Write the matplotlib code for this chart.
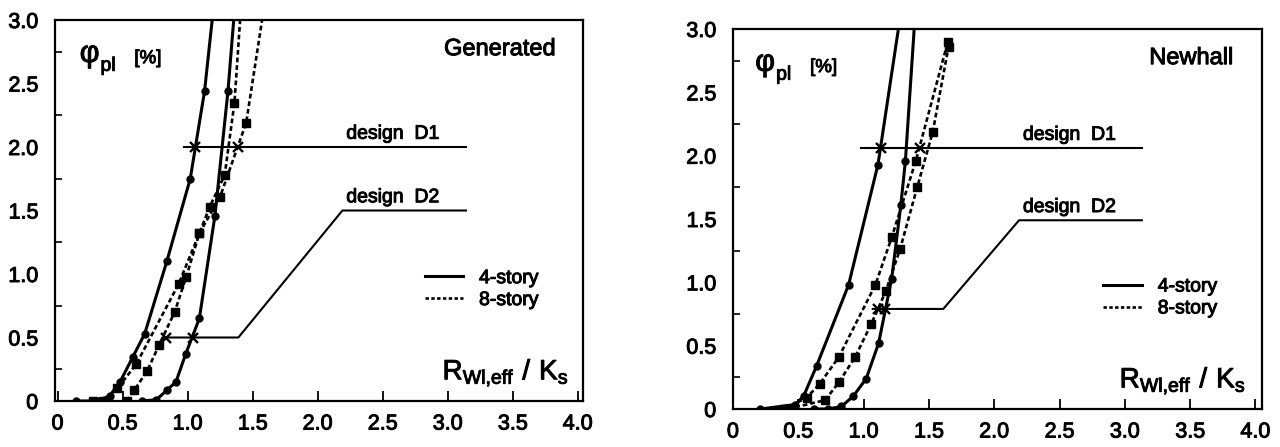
import numpy as np
import matplotlib.pyplot as plt
import matplotlib.patheffects as pe
from matplotlib.lines import Line2D

plt.rcParams['font.family'] = ['Liberation Sans', 'DejaVu Sans']
plt.rcParams['mathtext.fontset'] = 'custom'
plt.rcParams['mathtext.rm'] = 'Liberation Sans'

# --- Generated (left panel) ---
gen_4a_x = [0.14, 0.30, 0.40, 0.48, 0.58, 0.67, 0.84, 1.02, 1.13, 1.22]
gen_4a_y = [0.0, 0.0, 0.04, 0.15, 0.35, 0.53, 1.10, 1.75, 2.44, 3.30]
gen_4b_x = [0.65, 0.76, 0.84, 0.91, 0.985, 1.09, 1.21, 1.31, 1.37]
gen_4b_y = [0.0, 0.01, 0.085, 0.15, 0.37, 0.65, 1.46, 2.44, 3.20]
gen_8a_x = [0.27, 0.35, 0.46, 0.605, 0.93, 1.09, 1.17, 1.285, 1.36, 1.43]
gen_8a_y = [0.0, 0.0, 0.10, 0.29, 0.92, 1.32, 1.53, 1.78, 2.35, 3.40]
gen_8b_x = [0.53, 0.59, 0.69, 0.78, 0.90, 0.99, 1.09, 1.25, 1.45, 1.58]
gen_8b_y = [0.0, 0.085, 0.24, 0.44, 0.70, 0.98, 1.32, 1.61, 2.19, 3.05]
gen_cross_x = [1.06, 1.385, 0.83, 1.04]
gen_cross_y = [2.0, 2.0, 0.5, 0.5]
gen_d1_x = [0.97, 3.14]
gen_d1_y = [2.0, 2.0]
gen_d2_x = [0.81, 1.39, 2.19, 3.14]
gen_d2_y = [0.5, 0.5, 1.5, 1.5]

# --- Newhall (right panel) ---
new_4a_x = [0.21, 0.475, 0.54, 0.64, 0.885, 1.11, 1.31]
new_4a_y = [0.0, 0.035, 0.10, 0.34, 0.98, 1.93, 3.30]
new_4b_x = [0.62, 0.73, 0.83, 0.92, 1.02, 1.115, 1.215, 1.285, 1.32, 1.40]
new_4b_y = [0.0, 0.0, 0.02, 0.10, 0.24, 0.52, 1.03, 1.61, 1.96, 3.20]
new_8a_x = [0.39, 0.565, 0.665, 0.81, 1.09, 1.215, 1.40, 1.645]
new_8a_y = [0.0, 0.09, 0.20, 0.41, 0.98, 1.355, 1.96, 2.90]
new_8b_x = [0.42, 0.705, 0.81, 0.935, 1.06, 1.17, 1.28, 1.41, 1.53, 1.65]
new_8b_y = [0.0, 0.07, 0.21, 0.41, 0.675, 0.93, 1.265, 1.75, 2.19, 2.86]
new_cross_x = [1.13, 1.43, 1.11, 1.165]
new_cross_y = [2.06, 2.06, 0.79, 0.79]
new_d1_x = [0.98, 3.13]
new_d1_y = [2.06, 2.06]
new_d2_x = [1.07, 1.61, 2.19, 3.13]
new_d2_y = [0.79, 0.79, 1.49, 1.49]

x_ticks = [0, 0.5, 1.0, 1.5, 2.0, 2.5, 3.0, 3.5, 4.0]
x_labels = ['0', '0.5', '1.0', '1.5', '2.0', '2.5', '3.0', '3.5', '4.0']
y_ticks = [0, 0.5, 1.0, 1.5, 2.0, 2.5, 3.0]
y_labels = ['0', '0.5', '1.0', '1.5', '2.0', '2.5', '3.0']
stories = ['4-story', '8-story']

DASH = (0, (1.8, 1.1))
HEAVY = [pe.withStroke(linewidth=0.7, foreground='black')]


def panel(ax, c4a, c4b, c8a, c8b, cross, d1, d2, name, xlim):
    for cx, cy in (c4a, c4b):
        ax.plot(cx, cy, color='black', lw=2.2, marker='o', ms=5)
    for cx, cy in (c8a, c8b):
        ax.plot(cx, cy, color='black', lw=1.9, ls=DASH, marker='s', ms=5.5)
    ax.plot(d1[0], d1[1], color='black', lw=1.5)
    ax.plot(d2[0], d2[1], color='black', lw=1.5)
    ax.plot(cross[0], cross[1], ls='none', marker='x', ms=7, mew=1.7, color='black')

    ax.text(2.22, d1[1][-1] + 0.065, 'design  D1', fontsize=14, va='baseline')
    ax.text(2.22, d2[1][-1] + 0.065, 'design  D2', fontsize=14, va='baseline')
    ax.text(3.83, 2.77, name, fontsize=17, ha='right', va='center')
    ax.text(0.17, 2.67, 'φ', fontsize=22, va='baseline')
    ax.text(0.33, 2.60, 'pl', fontsize=14, va='baseline')
    ax.text(0.59, 2.66, '[%]', fontsize=13.5, va='baseline')
    ax.text(2.96, 0.17, r'$\mathregular{R_{Wl{,}eff}\ /\ K_s}$', fontsize=20, va='baseline')

    handles = [Line2D([], [], color='black', lw=2.2),
               Line2D([], [], color='black', lw=1.9, ls=(0, (1.3, 0.9)))]
    leg = ax.legend(handles, stories, loc='upper left', bbox_to_anchor=(0.70, 0.345),
                    frameon=False, fontsize=14, handlelength=2.0, handletextpad=0.8,
                    labelspacing=0.22, borderpad=0, borderaxespad=0)

    ax.set_xlim(*xlim)
    ax.set_ylim(0, 3.0)
    ax.set_xticks(x_ticks)
    ax.set_xticklabels(x_labels, fontsize=15.5)
    ax.set_yticks(y_ticks)
    ax.set_yticklabels(y_labels, fontsize=15.5)
    ax.set_yticks(np.arange(0.25, 3.0, 0.5), minor=True)
    ax.tick_params(axis='x', direction='in', length=7, width=1.3, pad=9)
    ax.tick_params(axis='y', which='major', length=0, pad=12)
    ax.tick_params(axis='y', which='minor', direction='in', length=5, width=1.2)
    for sp in ax.spines.values():
        sp.set_linewidth(1.6)

    # scanned print look: slightly heavier lettering
    for t in ax.texts + leg.get_texts() + ax.get_xticklabels() + ax.get_yticklabels():
        t.set_path_effects(HEAVY)


fig = plt.figure(figsize=(12.8, 4.47), dpi=100)
ax1 = fig.add_axes([55 / 1280, 1 - 401 / 447, 528 / 1280, 381 / 447])
ax2 = fig.add_axes([733 / 1280, 1 - 409 / 447, 529 / 1280, 380 / 447])

panel(ax1, (gen_4a_x, gen_4a_y), (gen_4b_x, gen_4b_y), (gen_8a_x, gen_8a_y),
      (gen_8b_x, gen_8b_y), (gen_cross_x, gen_cross_y), (gen_d1_x, gen_d1_y),
      (gen_d2_x, gen_d2_y), 'Generated', (-0.02, 4.04))
panel(ax2, (new_4a_x, new_4a_y), (new_4b_x, new_4b_y), (new_8a_x, new_8a_y),
      (new_8b_x, new_8b_y), (new_cross_x, new_cross_y), (new_d1_x, new_d1_y),
      (new_d2_x, new_d2_y), 'Newhall', (0, 4.05))

fig.savefig('out.png', dpi=100)
